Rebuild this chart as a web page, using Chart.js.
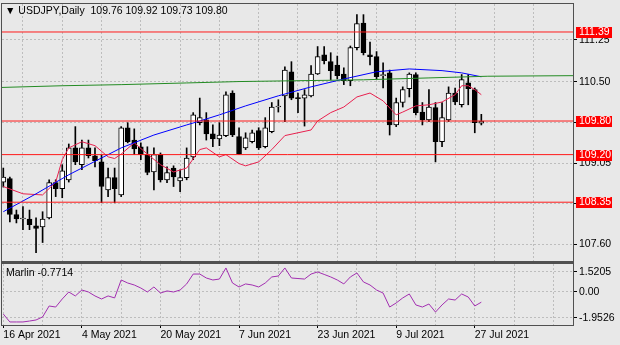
<!DOCTYPE html>
<html lang="en">
<head>
<meta charset="UTF-8">
<title>USDJPY Daily</title>
<script src="https://cdn.jsdelivr.net/npm/chart.js@4.4.1/dist/chart.umd.min.js"></script>
<style>
    body { margin: 0; background: #e8e8e8; }
    .wrap { position: relative; width: 620px; height: 345px; }
    #main { position: absolute; left: 0; top: 0; width: 620px; height: 262px; }
    #sub { position: absolute; left: 0; top: 262px; width: 620px; height: 83px; }
</style>
</head>
<body>
<div class="wrap">
    <canvas id="main" width="620" height="262"></canvas>
    <canvas id="sub" width="620" height="83"></canvas>
</div>
<script>
// daily candles, 16 Apr 2021 .. 28 Jul 2021
const opens = [108.71, 108.77, 108.13, 108.05, 108.05, 107.93, 107.91, 108.07, 108.70, 108.59,
    108.75, 109.32, 109.02, 109.32, 109.18, 109.07, 108.57, 108.79, 108.48, 109.68,
    109.46, 109.34, 109.20, 108.89, 109.20, 108.75, 108.96, 108.73, 108.79, 109.16,
    109.77, 109.82, 109.57, 109.48, 109.54, 110.30, 109.52, 109.32, 109.43, 109.63,
    109.34, 109.61, 110.05, 110.25, 110.68, 110.21, 110.21, 110.25, 110.64, 110.98,
    110.86, 110.80, 110.64, 110.52, 111.11, 111.55, 110.98, 110.95, 110.61, 110.66,
    109.73, 110.13, 110.38, 110.63, 109.96, 109.82, 110.04, 109.43, 109.82, 110.30,
    110.09, 110.48, 110.36, 109.76];
const highs = [108.96, 108.80, 108.21, 108.27, 108.21, 108.07, 108.18, 108.75, 108.75, 109.02,
    109.39, 109.70, 109.46, 109.46, 109.32, 109.20, 108.96, 108.96, 109.70, 109.77,
    109.66, 109.41, 109.34, 109.32, 109.23, 108.98, 109.00, 108.93, 109.32, 109.95,
    110.21, 109.95, 109.73, 109.77, 110.32, 110.34, 109.68, 109.59, 109.64, 109.68,
    109.86, 110.13, 110.18, 110.77, 110.86, 110.30, 110.36, 110.79, 111.13, 111.13,
    111.02, 110.96, 110.75, 111.14, 111.70, 111.70, 111.21, 111.04, 110.84, 110.71,
    110.21, 110.41, 110.66, 110.66, 110.13, 110.36, 110.13, 110.13, 110.41, 110.39,
    110.63, 110.63, 110.39, 109.92];
const lows = [108.62, 108.00, 107.98, 107.86, 107.86, 107.45, 107.63, 108.05, 108.45, 108.43,
    108.71, 109.02, 108.93, 109.14, 108.98, 108.34, 108.45, 108.34, 108.45, 109.41,
    109.20, 109.11, 108.84, 108.57, 108.71, 108.70, 108.63, 108.54, 108.75, 109.11,
    109.73, 109.46, 109.34, 109.36, 109.52, 109.52, 109.20, 109.29, 109.41, 109.29,
    109.32, 109.59, 109.96, 109.79, 110.18, 109.95, 109.71, 110.23, 110.63, 110.82,
    110.54, 110.55, 110.45, 110.43, 111.07, 110.98, 110.80, 110.55, 110.39, 109.55,
    109.70, 110.05, 110.23, 109.91, 109.73, 109.79, 109.07, 109.34, 109.79, 110.09,
    110.05, 110.09, 109.59, 109.73];
const closes = [108.80, 108.13, 108.05, 108.06, 107.95, 107.88, 108.05, 108.70, 108.59, 108.91,
    109.32, 109.07, 109.32, 109.18, 109.09, 108.63, 108.79, 108.59, 109.68, 109.43,
    109.30, 109.20, 108.88, 109.20, 108.75, 108.88, 108.80, 108.79, 109.14, 109.91,
    109.86, 109.57, 109.48, 109.55, 110.27, 109.55, 109.21, 109.50, 109.59, 109.32,
    109.68, 110.05, 110.06, 110.71, 110.21, 110.20, 110.27, 110.64, 110.95, 110.88,
    110.70, 110.61, 110.52, 111.11, 111.54, 111.02, 110.95, 110.59, 110.63, 109.73,
    110.13, 110.36, 110.64, 109.95, 109.82, 110.05, 109.43, 109.86, 110.30, 110.14,
    110.54, 110.38, 109.77, 109.80];

// moving averages, read at some bars
const blueIdx = [0, 5, 10, 15, 18, 23, 28, 30, 33, 37, 42, 47, 52, 57, 62, 67, 70, 73];
const blueMA = [108.18, 108.50, 108.84, 109.14, 109.32, 109.55, 109.73, 109.80, 109.91, 110.07,
    110.25, 110.41, 110.55, 110.68, 110.73, 110.70, 110.66, 110.59];
const redIdx = [0, 3, 6, 8, 9, 10, 12, 14, 16, 17, 18, 20, 22, 24, 26, 28, 30, 31, 33, 34,
    36, 37, 39, 41, 43, 45, 47, 48, 50, 52, 54, 56, 58, 60, 61, 63, 65, 67, 69, 70, 71, 72, 73];
const redMA = [108.63, 108.50, 108.48, 108.71, 109.11, 109.32, 109.43, 109.36, 109.16, 109.13,
    109.21, 109.41, 109.21, 109.02, 108.89, 108.96, 109.29, 109.32, 109.16, 109.20,
    109.04, 109.00, 109.07, 109.29, 109.54, 109.59, 109.64, 109.80, 109.95, 110.05,
    110.23, 110.30, 110.16, 109.91, 109.96, 110.07, 110.09, 110.14, 110.27, 110.43,
    110.43, 110.36, 110.27];
const greenIdx = [-0.2, 9, 18, 28, 36, 45, 55, 65, 74, 87];
const greenMA = [110.40, 110.43, 110.45, 110.48, 110.505, 110.52, 110.536, 110.57, 110.60, 110.61];

const marlin = [-1.67, -2.27, -2.27, -2.27, -2.20, -2.12, -1.89, -1.06, -1.14, -0.53,
    0.00, -0.30, 0.15, 0.00, -0.30, -0.53, -0.30, -0.45, 0.91, 0.68,
    0.53, 0.30, 0.00, 0.38, -0.08, 0.08, 0.00, 0.15, 0.61, 1.36,
    1.36, 1.06, 0.91, 0.98, 1.82, 0.68, 0.38, 0.61, 0.53, 0.38,
    0.68, 1.14, 1.21, 1.82, 1.06, 1.02, 0.98, 1.36, 1.52, 1.33,
    1.14, 0.91, 0.61, 1.14, 1.44, 0.76, 0.53, 0.15, -0.08, -1.14,
    -0.83, -0.45, -0.15, -0.98, -1.14, -0.91, -1.52, -0.98, -0.53, -0.61,
    -0.15, -0.38, -1.06, -0.7714];

const levels = [111.39, 109.80, 109.20, 108.35];
const priceTicks = [107.60, 108.325, 109.05, 109.775, 110.50, 111.25];
const marlinTicks = [1.5205, 0, -1.9526];
const gridIdx = [0, 6, 12, 18, 24, 30, 36, 42, 48, 54, 60, 66, 72, 78, 84];
const dateIdx = [0, 12, 24, 36, 48, 60, 72];
const dateLabels = ['16 Apr 2021', '4 May 2021', '20 May 2021', '7 Jun 2021', '23 Jun 2021', '9 Jul 2021', '27 Jul 2021'];

const XMIN = -0.2, XMAX = 87;
const FONT = 'Liberation Sans';
Chart.defaults.font.family = FONT;
Chart.defaults.font.size = 10.5;
Chart.defaults.color = '#000';

const gridCol = '#bdbdbd';
const bars = opens.map((o, i) => i);
const pts = (xs, ys) => xs.map((x, i) => ({ x: x, y: ys[i] }));

function lineSet(data, color, order) {
    return { type: 'line', data: data, borderColor: color, borderWidth: 1, pointRadius: 0, tension: 0, order: order };
}

// no extra room for the first/last tick labels
function fitTo(w, h) {
    return s => {
        if (w !== null) s.width = w;
        if (h !== null) s.height = h;
        s.paddingTop = 0; s.paddingBottom = 0; s.paddingLeft = 0; s.paddingRight = 0;
    };
}

const frame = {
    id: 'frame',
    afterDraw(chart, args, opts) {
        const { ctx, chartArea: a } = chart;
        ctx.save();
        ctx.strokeStyle = '#505050';
        ctx.lineWidth = 1;
        ctx.strokeRect(a.left - 0.5, a.top - 0.5, a.right - a.left + 1, a.bottom - a.top + 1);
        if (opts.thickTop) {
            ctx.lineWidth = 2;
            ctx.beginPath();
            ctx.moveTo(a.left - 1, a.top - 1);
            ctx.lineTo(a.right + 1, a.top - 1);
            ctx.stroke();
        }
        ctx.restore();
    }
};

const labels = {
    id: 'labels',
    afterDraw(chart) {
        const { ctx, chartArea: a } = chart;
        const y = chart.scales.y;
        ctx.save();
        ctx.font = '10.5px ' + FONT;
        ctx.textBaseline = 'middle';
        levels.forEach(v => {
            const py = Math.round(y.getPixelForValue(v));
            ctx.fillStyle = '#ff0000';
            ctx.fillRect(a.right + 3, py - 5, 36, 11);
            ctx.fillStyle = '#ffffff';
            ctx.fillText(v.toFixed(2), a.right + 6, py + 0.5);
        });
        ctx.fillStyle = '#000';
        ctx.fillText('\u25BC USDJPY,Daily  109.76 109.92 109.73 109.80', 5, 11);
        ctx.restore();
    }
};

new Chart(document.getElementById('main'), {
    data: {
        datasets: [
            ...levels.map(v => lineSet([{ x: XMIN, y: v }, { x: XMAX, y: v }], '#ff1a1a', 0)),
            lineSet(pts(greenIdx, greenMA), '#238b23', 1),
            lineSet(pts(blueIdx, blueMA), '#0000ff', 1),
            lineSet(pts(redIdx, redMA), '#e8204e', 1),
            {
                type: 'bar',
                data: bars.map(i => ({ x: i, y: [opens[i], closes[i]] })),
                backgroundColor: bars.map(i => closes[i] >= opens[i] ? '#ffffff' : '#000000'),
                borderColor: '#000',
                borderWidth: 1,
                borderSkipped: false,
                barThickness: 5,
                minBarLength: 1,
                grouped: false,
                order: 2
            },
            {
                type: 'bar',
                data: bars.map(i => ({ x: i, y: [lows[i], highs[i]] })),
                backgroundColor: '#000',
                barThickness: 1,
                grouped: false,
                order: 3
            }
        ]
    },
    options: {
        responsive: false,
        animation: false,
        layout: { padding: { left: 2, top: 4, right: 0, bottom: 1 } },
        plugins: { legend: { display: false }, tooltip: { enabled: false }, frame: {} },
        scales: {
            x: {
                type: 'linear', min: XMIN, max: XMAX, offset: false,
                afterBuildTicks: s => { s.ticks = gridIdx.map(v => ({ value: v })); },
                afterFit: fitTo(null, 0),
                ticks: { display: false },
                grid: { color: gridCol, drawTicks: false },
                border: { display: false, dash: [2, 2] }
            },
            y: {
                position: 'right', min: 107.30, max: 111.89,
                afterBuildTicks: s => { s.ticks = priceTicks.map(v => ({ value: v })); },
                afterFit: fitTo(47, null),
                ticks: {
                    padding: 2,
                    callback: v => (levels.some(l => Math.abs(l - v) < 0.1) ? '' : v.toFixed(2))
                },
                grid: { color: gridCol, tickLength: 4, tickColor: '#000', tickBorderDash: [] },
                border: { display: false, dash: [2, 2] }
            }
        }
    },
    plugins: [frame, labels]
});

const subText = {
    id: 'subText',
    afterDraw(chart) {
        const ctx = chart.ctx;
        ctx.save();
        ctx.font = '10.5px ' + FONT;
        ctx.textBaseline = 'middle';
        ctx.fillStyle = '#000';
        ctx.fillText('Marlin -0.7714', 6, 11);
        ctx.restore();
    }
};

new Chart(document.getElementById('sub'), {
    type: 'line',
    data: {
        datasets: [lineSet(pts(bars, marlin), '#a22fb0', 0)]
    },
    options: {
        responsive: false,
        animation: false,
        layout: { padding: { left: 2, top: 2, right: 0, bottom: 0 } },
        plugins: { legend: { display: false }, tooltip: { enabled: false }, frame: { thickTop: true } },
        scales: {
            x: {
                type: 'linear', min: XMIN, max: XMAX,
                afterBuildTicks: s => { s.ticks = gridIdx.map(v => ({ value: v })); },
                afterFit: fitTo(null, 20),
                ticks: {
                    align: 'start', maxRotation: 0, autoSkip: false, padding: 1,
                    callback: v => { const k = dateIdx.indexOf(v); return k >= 0 ? dateLabels[k] : ''; }
                },
                grid: {
                    color: gridCol, tickLength: 3, tickBorderDash: [],
                    tickColor: c => (c.tick && dateIdx.includes(c.tick.value)) ? '#000' : 'rgba(0,0,0,0)'
                },
                border: { display: false, dash: [2, 2] }
            },
            y: {
                position: 'right', min: -2.5, max: 2.12,
                afterBuildTicks: s => { s.ticks = marlinTicks.map(v => ({ value: v })); },
                afterFit: fitTo(47, null),
                ticks: { padding: 2, callback: v => (v === 0 ? '0.00' : v.toFixed(4)) },
                grid: { color: gridCol, tickLength: 4, tickColor: '#000', tickBorderDash: [] },
                border: { display: false, dash: [2, 2] }
            }
        }
    },
    plugins: [frame, subText]
});
</script>
</body>
</html>
